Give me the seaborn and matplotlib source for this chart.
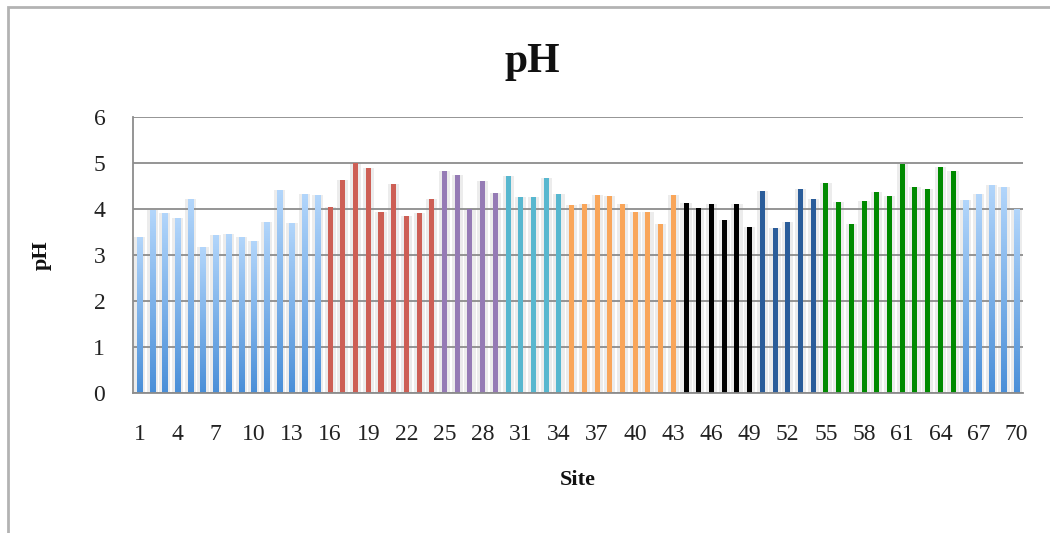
import numpy as np
import pandas as pd
import matplotlib
matplotlib.use("Agg")
import matplotlib.pyplot as plt
import seaborn as sns
from matplotlib.colors import LinearSegmentedColormap
from matplotlib.patches import Rectangle

sites = list(range(1, 71))
ph_values = [3.39, 3.97, 3.91, 3.79, 4.21, 3.16, 3.43, 3.45, 3.39, 3.30,
             3.72, 4.41, 3.70, 4.33, 4.30, 4.04, 4.63, 4.99, 4.89, 3.93,
             4.53, 3.85, 3.90, 4.22, 4.82, 4.74, 3.99, 4.61, 4.35, 4.71,
             4.26, 4.26, 4.68, 4.32, 4.09, 4.10, 4.30, 4.28, 4.10, 3.93,
             3.93, 3.68, 4.29, 4.13, 4.02, 4.11, 3.76, 4.11, 3.60, 4.39,
             3.58, 3.71, 4.44, 4.22, 4.56, 4.14, 3.67, 4.18, 4.37, 4.27,
             4.97, 4.47, 4.42, 4.91, 4.82, 4.20, 4.32, 4.52, 4.48, 4.00]
group_sizes = [15, 9, 5, 5, 9, 6, 5, 11, 5]
group_names = ["g1", "g2", "g3", "g4", "g5", "g6", "g7", "g8", "g9"]
group_colors = ["#7fb3ec", "#cd5f55", "#957bb5", "#57b7cf", "#f9a65a",
                "#000000", "#2b5d9a", "#008a00", "#7fb3ec"]
gradient_groups = ["g1", "g9"]

groups = [g for g, n in zip(group_names, group_sizes) for _ in range(n)]
df = pd.DataFrame({"site": [str(s) for s in sites], "ph": ph_values, "group": groups})

sns.set_style("white")
plt.rcParams["font.family"] = ["Liberation Serif", "DejaVu Serif"]

fig = plt.figure(figsize=(10.5, 5.33), dpi=100)
ax = fig.add_axes([0.1267, 0.2627, 0.8476, 0.5183])

# soft shadow behind bars
sns.barplot(data=df, x="site", y="ph", color="#ececec", width=0.88,
            saturation=1, ax=ax, zorder=1, errorbar=None, linewidth=0)
n_shadow = len(ax.patches)
sns.barplot(data=df, x="site", y="ph", hue="group",
            palette=dict(zip(group_names, group_colors)), width=0.4,
            saturation=1, dodge=False, legend=False, ax=ax, zorder=3,
            errorbar=None, linewidth=0)

# gradient for light blue groups
cmap = LinearSegmentedColormap.from_list("lb", ["#4a8fd8", "#b3d6fb"])
grad = np.linspace(0, 1, 256).reshape(-1, 1)
bar_patches = ax.patches[n_shadow:]
bar_patches = sorted([p for p in bar_patches if p.get_height() > 0], key=lambda p: p.get_x())
for p, g in zip(bar_patches, groups):
    if g in gradient_groups:
        x0, w, h = p.get_x(), p.get_width(), p.get_height()
        p.set_facecolor("none")
        im = ax.imshow(grad, cmap=cmap, origin="lower", aspect="auto",
                       extent=[x0, x0 + w, 0, h], zorder=3)
        im.set_clip_path(p)

ax.set_xlim(-0.5, len(sites) - 0.5)
ax.set_ylim(0, 6)
ax.set_yticks(range(0, 7))
ax.set_axisbelow("line")
ax.grid(axis="y", color="#8c8c8c", linewidth=1.3)

ax.set_xticks(range(0, len(sites), 3))
ax.set_xticklabels([str(s) for s in sites[::3]])
ax.set_xticks(np.arange(-0.5, len(sites), 1), minor=True)
ax.tick_params(axis="x", which="major", length=0, pad=22, labelsize=17, colors="#222222")
ax.tick_params(axis="x", which="minor", length=6, width=1.2, color="#8c8c8c", direction="out")
ax.tick_params(axis="y", which="major", length=6, width=1.2, color="#8c8c8c",
               direction="out", labelsize=17, pad=14, labelcolor="#222222")

for s in ["top", "right"]:
    ax.spines[s].set_visible(False)
for s in ["left", "bottom"]:
    ax.spines[s].set_color("#8c8c8c")
    ax.spines[s].set_linewidth(1.3)
    ax.spines[s].set_zorder(4)

ax.set_xlabel("Site", fontsize=16, fontweight="bold", labelpad=18, color="#111111")
ax.set_ylabel("pH", fontsize=16, fontweight="bold", labelpad=30, color="#111111")
fig.text(0.507, 0.883, "pH", ha="center", va="center", fontsize=30, fontweight="bold", color="#111111")

# outer chart border (left and top edges visible)
fig.patches.append(Rectangle((0.0075, -0.1), 1.2, 1.087, transform=fig.transFigure,
                             fill=False, edgecolor="#b3b3b3", linewidth=2))

fig.savefig("out.png", dpi=100)
